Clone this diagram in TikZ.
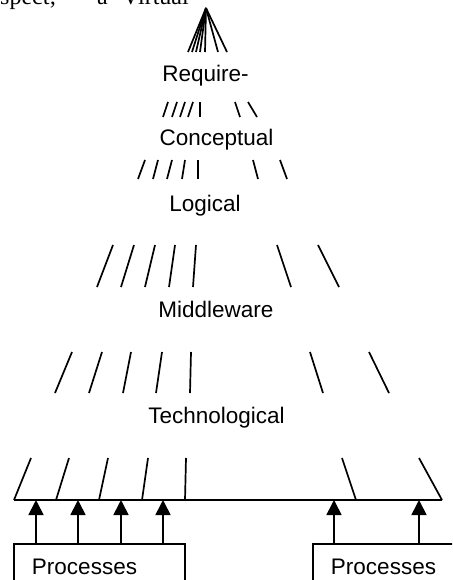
\documentclass[tikz,border=0pt]{standalone}
\usepackage{fontspec}
\setmainfont{Liberation Sans}
\newfontfamily\pagefont{Liberation Serif}
\usetikzlibrary{arrows.meta}

\tikzset{
  layer/.style={font=\fontsize{22.5}{27}\selectfont, inner sep=0pt, anchor=base},
  pagetext/.style={font=\pagefont\fontsize{24}{28}\selectfont, inner sep=0pt, anchor=base west},
  tick/.style={line width=1.7pt},
  feed/.style={line width=1.7pt, -{Triangle[length=15pt,width=15pt]}},
  procbox/.style={draw, line width=1.7pt, inner sep=0pt, anchor=north west}
}

\begin{document}
\begin{tikzpicture}[x=1pt,y=-1pt]
        \useasboundingbox (0,0) rectangle (452,580);
        \clip (0,0) rectangle (452,580);

        % running text of the page above
        \node[pagetext] (txta) at (0,5) {spect;};
        \node[pagetext] (txtb) at (97,5) {a};
        \node[pagetext] (txtc) at (122,5) {Virtual};

        % apex
        \coordinate (apex) at (206,8);
        \foreach \b in {188,192,196,200,205,218,227}
            \draw[tick] (apex) -- (\b,52);

        % layers
        \node[layer] (req) at (205.5,82) {Require-};
        \foreach \t/\b in {168/163,177/172,185/180,193/188,200/200,235/240,248/257}
            \draw[tick] (\t,102) -- (\b,117);

        \node[layer] (conc) at (216.5,146) {Conceptual};
        \foreach \t/\b in {145/138,158/153,172/167,185/182,198/198,253/258,280/287}
            \draw[tick] (\t,160) -- (\b,179);

        \node[layer] (logi) at (205,211) {Logical};
        \foreach \t/\b in {113/97,134/121,155/145,175/169,196/193,277/291,318/339}
            \draw[tick] (\t,245) -- (\b,287);

        \node[layer] (midw) at (216,317) {Middleware};
        \foreach \t/\b in {72/55,102/89,131/123,162/156,191/190,310/323,369/389}
            \draw[tick] (\t,352) -- (\b,393);

        \node[layer] (tech) at (216.5,423) {Technological};
        \foreach \t/\b in {31/14,69/56,108/99,148/142,186/185,342/356,419/442}
            \draw[tick] (\t,458) -- (\b,500);

        % base line
        \coordinate (barl) at (14,500);
        \coordinate (barr) at (442,500);
        \draw[tick] (barl) -- (barr);

        % processes
        \node[procbox, minimum width=171pt, minimum height=60pt] (procl) at (13,543) {};
        \node[procbox, minimum width=160pt, minimum height=60pt] (procr) at (312,543) {};
        \node[layer] (procltxt) at (84.5,574) {Processes};
        \node[layer] (procrtxt) at (383.5,574) {Processes};

        % feeds into the base
        \foreach \x/\n in {36/1,78/2,121/3,163/4}{
            \coordinate (in\n) at (\x,500);
            \draw[feed] (in\n |- procl.north) -- (in\n);
        }
        \foreach \x/\n in {334/5,419/6}{
            \coordinate (in\n) at (\x,500);
            \draw[feed] (in\n |- procr.north) -- (in\n);
        }
\end{tikzpicture}
\end{document}
